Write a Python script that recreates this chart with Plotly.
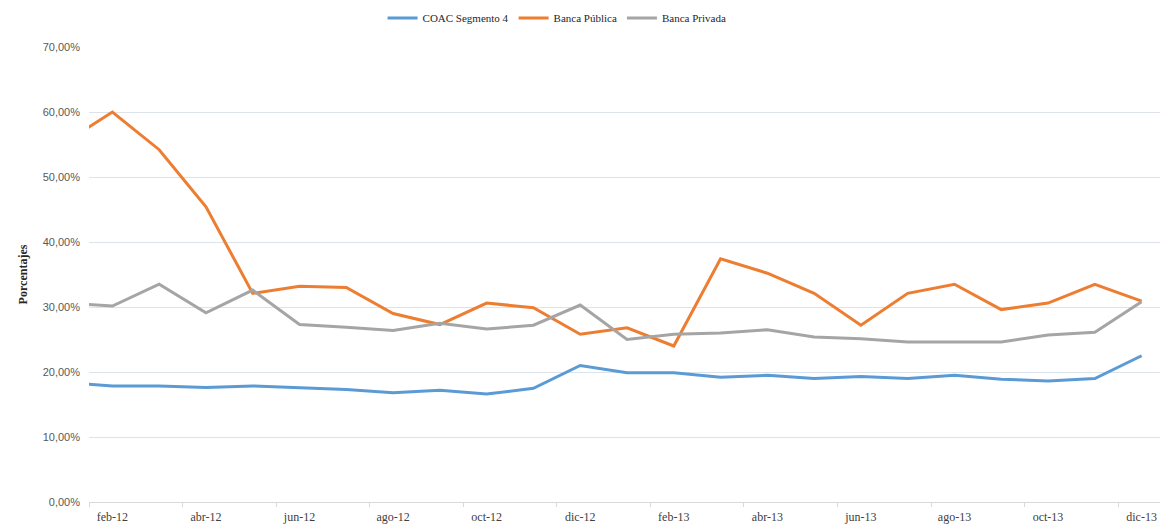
import plotly.graph_objects as go

meses = ["ene-12", "feb-12", "mar-12", "abr-12", "may-12", "jun-12", "jul-12", "ago-12",
         "sep-12", "oct-12", "nov-12", "dic-12", "ene-13", "feb-13", "mar-13", "abr-13",
         "may-13", "jun-13", "jul-13", "ago-13", "sep-13", "oct-13", "nov-13", "dic-13"]

coac_seg4 = [18.35, 17.85, 17.85, 17.6, 17.85, 17.6, 17.3, 16.8, 17.2, 16.6, 17.5, 21.0,
             19.9, 19.9, 19.2, 19.5, 19.0, 19.3, 19.0, 19.5, 18.9, 18.6, 19.0, 22.5]
banca_publica = [55.4, 60.0, 54.2, 45.4, 32.1, 33.2, 33.0, 29.0, 27.3, 30.6, 29.9, 25.8,
                 26.8, 24.0, 37.4, 35.2, 32.1, 27.2, 32.1, 33.5, 29.6, 30.6, 33.5, 30.9]
banca_privada = [30.65, 30.15, 33.5, 29.1, 32.6, 27.3, 26.9, 26.4, 27.5, 26.6, 27.2, 30.3,
                 25.0, 25.8, 26.0, 26.5, 25.4, 25.1, 24.6, 24.6, 24.6, 25.7, 26.1, 30.8]

y_ticks = [0, 10, 20, 30, 40, 50, 60, 70]
y_labels = ["0,00%", "10,00%", "20,00%", "30,00%", "40,00%", "50,00%", "60,00%", "70,00%"]

x = list(range(len(meses)))

fig = go.Figure()
for nombre, valores, color in [("COAC Segmento 4", coac_seg4, "#5B9BD5"),
                               ("Banca Pública", banca_publica, "#ED7D31"),
                               ("Banca Privada", banca_privada, "#A5A5A5")]:
    fig.add_trace(go.Scatter(x=x, y=valores, name=nombre, mode="lines",
                             line=dict(color=color, width=3)))

# the page body adds an 8px offset, so the figure is 8px smaller and margins shifted
fig.update_layout(
    width=1160, height=523,
    margin=dict(l=81, r=3, t=39, b=29, autoexpand=False),
    plot_bgcolor="white", paper_bgcolor="white",
    showlegend=True,
    legend=dict(orientation="h", x=0.435, xanchor="center", y=1.064, yanchor="middle",
                font=dict(family="Liberation Serif", size=11, color="#262626"),
                tracegroupgap=0),
)

fig.update_xaxes(
    range=[0.5, 23.5], automargin=False,
    tickmode="array", tickvals=x[1::2], ticktext=meses[1::2],
    ticks="", showgrid=False, zeroline=False,
    showline=True, linecolor="#D9D9D9", linewidth=1,
    tickfont=dict(family="Liberation Serif", size=12, color="#404040"),
    ticklabelstandoff=4,
    minor=dict(tick0=0.5, dtick=2, ticks="outside", ticklen=4, tickcolor="#D9D9D9", showgrid=False),
)

fig.update_yaxes(
    range=[0, 70], automargin=False,
    tickmode="array", tickvals=y_ticks, ticktext=y_labels,
    showgrid=True, gridcolor="#DDE3EA", gridwidth=1,
    zeroline=False, showline=False,
    tickfont=dict(family="Liberation Sans", size=11, color="#595959"),
    ticklabelstandoff=8,
    title=dict(text="<b>Porcentajes</b>", standoff=12,
               font=dict(family="Liberation Serif", size=12, color="#262626")),
)

fig.write_html("out.html")
